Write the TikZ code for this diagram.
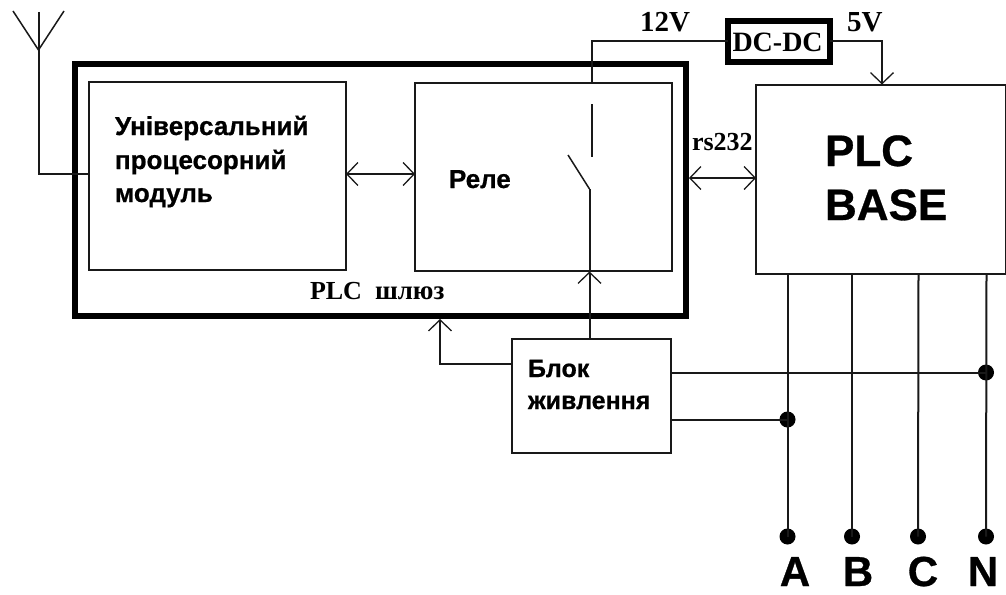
\documentclass[tikz,border=0pt]{standalone}
\usepackage{fontspec}
\setmainfont[BoldFeatures={FakeBold=0.7}]{Liberation Sans}
\newfontfamily\serifb[BoldFont={Liberation Serif Bold}]{Liberation Serif}
\usetikzlibrary{arrows.meta}
\newcommand{\sansat}[1]{\fontsize{#1}{#1}\selectfont\bfseries}
\newcommand{\serifat}[1]{\fontsize{#1}{#1}\serifb\bfseries}
\tikzset{
  wire/.style={line width=2pt,draw=black!90},
  barb/.style={wire,{Straight Barb[length=11pt,width=23pt,line width=1.3pt]}-},
  barbr/.style={wire,-{Straight Barb[length=11pt,width=23pt,line width=1.3pt]}},
  barbb/.style={wire,{Straight Barb[length=11pt,width=23pt,line width=1.3pt]}-{Straight Barb[length=11pt,width=23pt,line width=1.3pt]}},
  boxnode/.style={draw=black!90,line width=2pt,inner sep=0,outer sep=0},
  thickbox/.style={draw=black,line width=6pt,inner sep=0,outer sep=0},
  dotnode/.style={circle,fill=black,inner sep=0,minimum size=16pt,outer sep=0},
  lab/.style={anchor=base west,inner sep=0,outer sep=0,text=black},
  phase/.style={anchor=base,inner sep=0,outer sep=0,text=black},
}
\begin{document}
\begin{tikzpicture}[x=1pt,y=-1pt]
\useasboundingbox (0,0) rectangle (1006,594);
\fill[white] (0,0) rectangle (1006,594);
% boxes
\node[thickbox,minimum width=611pt,minimum height=252pt] (gate) at (380.5,190) {};
\node[boxnode,minimum width=257pt,minimum height=188pt] (cpu) at (217.5,176) {};
\node[boxnode,minimum width=257pt,minimum height=188pt] (relay) at (543.5,176.5) {};
\node[boxnode,minimum width=250pt,minimum height=189pt] (base) at (881,179) {};
\node[boxnode,minimum width=159pt,minimum height=114pt] (psu) at (591.5,396) {};
\node[thickbox,minimum width=102pt,minimum height=41pt] (dc) at (779,42) {};
% text
\node[lab] (t1) at (115,135) {\sansat{26}Універсальний};
\node[lab] (t2) at (115,169) {\sansat{26}процесорний};
\node[lab] (t3) at (115,202) {\sansat{26}модуль};
\node[lab] (t4) at (449,188) {\sansat{26}Реле};
\node[lab] (t5) at (528,377) {\sansat{25}Блок};
\node[lab] (t6) at (528,409) {\sansat{25}живлення};
\node[lab] (t7) at (825,166) {\sansat{44}PLC};
\node[lab] (t8) at (825,220) {\sansat{44}BASE};
\node[lab] (t9) at (310,299) {\serifat{26}PLC};
\node[lab] (t10) at (375,299) {\serifat{27}шлюз};
\node[lab] (t11) at (640,32) {\serifat{29}12V};
\node[lab] (t12) at (847,32) {\serifat{29}5V};
\node[lab] (t13) at (692,150) {\serifat{26}rs232};
\node[lab] (t14) at (732.5,52) {\serifat{28}DC-DC};
\node[phase] (t15) at (795,586) {\sansat{42}A};
\node[phase] (t16) at (858,586) {\sansat{42}B};
\node[phase] (t17) at (923,586) {\sansat{42}C};
\node[phase] (t18) at (983,586) {\sansat{42}N};
% dots
\node[dotnode] (dA) at (787.5,536.5) {};
\node[dotnode] (dB) at (852,536.5) {};
\node[dotnode] (dC) at (918,536.5) {};
\node[dotnode] (dN) at (986,536.5) {};
\node[dotnode] (jA) at (787.5,419.5) {};
\node[dotnode] (jN) at (986,372.5) {};
% free ends
\coordinate (antTop) at (38.5,12);
\coordinate (antFoot) at (38.5,50);
\coordinate (antL) at (13,11);
\coordinate (antR) at (64,11);
\coordinate (sw1) at (591.5,104);
\coordinate (sw2) at (591.5,157);
\coordinate (sw3) at (568,155);
\coordinate (sw4) at (589.5,189);
% antenna
\draw[wire] (antTop) -- (38.5,174) -- (cpu.west |- 0,174);
\draw[wire,line width=1.5pt] (antL) -- (antFoot) -- (antR);
% cpu-relay
\draw[barbb] (346,174) -- (415,174);
% rs232
\draw[barbb] (689,178) -- (base.west |- 0,178);
% 12V
\draw[wire] (dc.west |- 0,41.5) -- (591.5,41.5) -- (591.5,82);
\draw[wire] (sw1) -- (sw2);
\draw[wire,line width=1.5pt] (sw3) -- (sw4);
\draw[wire] (sw4) -- (589.5,270.5);
% 5V
\draw[wire] (dc.east |- 0,41.5) -- (882,41.5) -- (882,84);
\draw[barbr] (882,60) -- (882,84.5);
% psu feeds
\draw[barb] (589.5,271.5) -- (589.5,339);
\draw[barb] (440,319) -- (440,363.5) -- (psu.west |- 0,363.5);
\draw[wire] (psu.east |- 0,372.5) -- (jN.center);
\draw[wire] (psu.east |- 0,419.5) -- (jA.center);
% phases
\draw[wire] (787.5,273.5) -- (dA.center);
\draw[wire] (852,273.5) -- (dB.center);
\draw[wire] (918.5,273.5) -- (dC.center);
\draw[wire] (986.5,273.5) -- (dN.center);
\end{tikzpicture}
\end{document}
